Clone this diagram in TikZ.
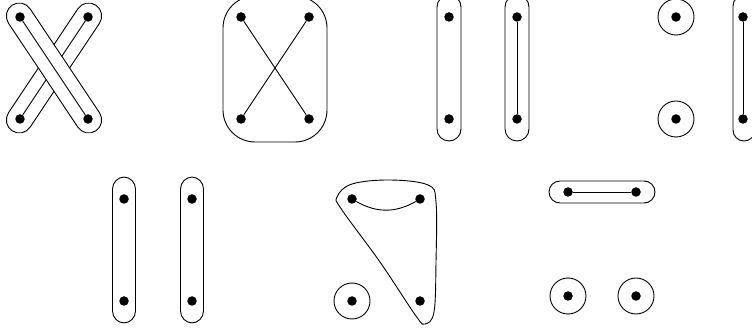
\documentclass[tikz,border=0pt]{standalone}
\usepackage{tikz}
\usetikzlibrary{positioning, calc}

\begin{document}
\begin{tikzpicture}[
  x=1pt, y=-1pt,
  vtx/.style={circle, fill=black, inner sep=0pt, minimum size=9.5pt},
  link/.style={line width=0.9pt},
  hull/.style={draw, line width=0.9pt, fill=white, rounded corners=#1, inner sep=0pt},
  hull/.default=12pt,
  ring/.style={draw, circle, line width=0.9pt, minimum size=36pt, inner sep=0pt},
]
\useasboundingbox (0,0) rectangle (752,336);
\clip (0,0) rectangle (752,336);

% Crossing pairs
\node[hull=13pt, minimum width=151pt, minimum height=26pt, rotate=56.3] (xback) at (54,68) {};
\node[vtx] (xbl) at (20,119) {};
\node[vtx] (xtr) at (88,17) {};
\draw[link] (xbl) -- (xtr);
\node[hull=13pt, minimum width=151pt, minimum height=26pt, rotate=-56.3] (xfront) at (54,68) {};
\node[vtx] (xtl) at (20,17) {};
\node[vtx] (xbr) at (88,119) {};
\draw[link] (xtl) -- (xbr);

% One block, crossed edges
\node[hull=32pt, minimum width=104pt, minimum height=146pt] (blk) at (275,69) {};
\node[vtx] (ctl) at (241,17) {};
\node[vtx] (ctr) at (309,17) {};
\node[vtx] (cbl) at (241,119) {};
\node[vtx] (cbr) at (309,119) {};
\draw[link] (ctl) -- (cbr);
\draw[link] (ctr) -- (cbl);

% Two vertical pairs
\node[hull, minimum width=24pt, minimum height=146pt] (pl) at (449,68) {};
\node[hull, minimum width=24pt, minimum height=146pt] (pr) at (517,68) {};
\node[vtx] (plt) at (449,17) {};
\node[vtx] (plb) at (449,119) {};
\node[vtx] (prt) at (517,17) {};
\node[vtx] (prb) at (517,119) {};
\draw[link] (prt) -- (prb);

% Singletons and a pair
\node[ring] (st) at (676,17) {};
\node[ring] (sb) at (676,119) {};
\node[vtx] (stv) at (st.center) {};
\node[vtx] (sbv) at (sb.center) {};
\node[hull=11pt, minimum width=22pt, minimum height=146pt] (qr) at (744,68) {};
\node[vtx] (qrt) at (743,17) {};
\node[vtx] (qrb) at (743,119) {};
\draw[link] (qrt) -- (qrb);

% Two pairs, no edges
\node[hull, minimum width=23pt, minimum height=146pt] (ul) at (124,250) {};
\node[hull, minimum width=23pt, minimum height=146pt] (ur) at (192,250) {};
\node[vtx] (ult) at (124,199) {};
\node[vtx] (ulb) at (124,301) {};
\node[vtx] (urt) at (192,199) {};
\node[vtx] (urb) at (192,301) {};

% Triple and a singleton
\draw[line width=0.9pt] plot[smooth cycle, tension=0.6] coordinates {
  (337,197) (352,184) (390,180) (428,185) (436,202) (436,262)
  (434,312) (425,324) (416,316) (380,262) (342,210)};
\node[vtx] (tl) at (352,199) {};
\node[vtx] (tr) at (420,199) {};
\node[vtx] (tb) at (420,301) {};
\draw[link] (tl) to[bend right=30] (tr);
\node[ring] (tsing) at (352,301) {};
\node[vtx] (tsv) at (tsing.center) {};

% Horizontal pair and two singletons
\node[hull=11pt, minimum width=106pt, minimum height=22pt] (hp) at (602,192) {};
\node[vtx] (hl) at (568,192) {};
\node[vtx] (hr) at (636,192) {};
\draw[link] (hl) -- (hr);
\node[ring] (gl) at (568,296) {};
\node[ring] (gr) at (636,296) {};
\node[vtx] (glv) at (gl.center) {};
\node[vtx] (grv) at (gr.center) {};
\end{tikzpicture}
\end{document}
